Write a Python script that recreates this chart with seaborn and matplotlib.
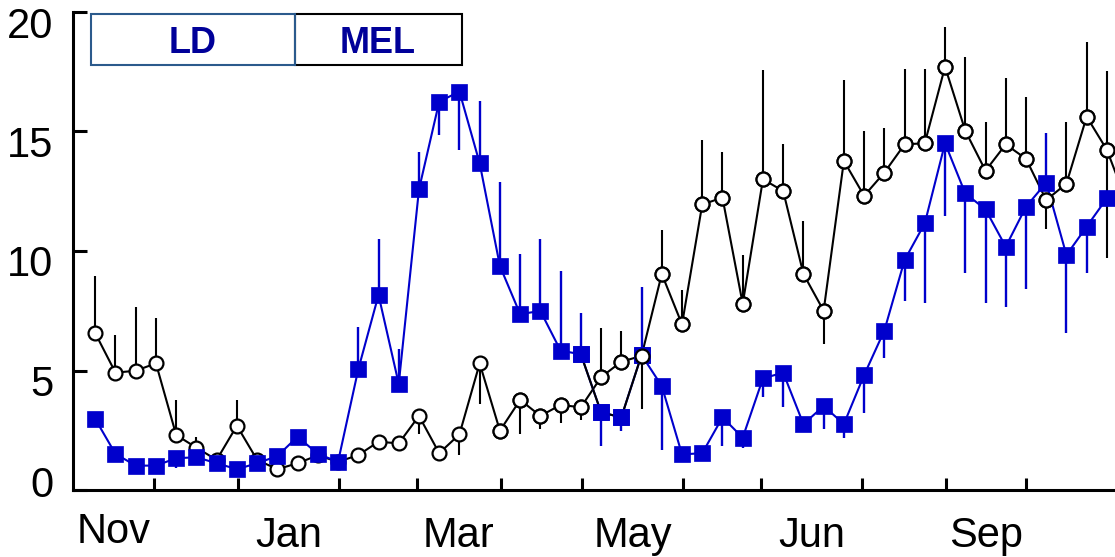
import matplotlib
matplotlib.use("Agg")
import matplotlib.pyplot as plt
import matplotlib.transforms as mtransforms
from matplotlib.patches import Rectangle
import numpy as np
import pandas as pd
import seaborn as sns

# Weekly means (week 0 = first week of November) with one-sided error extents
mel_mean = [6.56, 4.91, 4.99, 5.30, 2.30, 1.77, 1.26, 2.69, 1.26, 0.87,
            1.12, 1.45, 1.18, 1.46, 2.02, 1.95, 3.10, 1.54, 2.33, 5.30,
            2.48, 3.77, 3.10, 3.56, 3.46, 4.72, 5.37, 5.61, 9.04, 6.93,
            11.95, 12.23, 7.79, 13.00, 12.51, 9.04, 7.50, 13.77, 12.31, 13.28,
            14.46, 14.51, 17.71, 15.03, 13.36, 14.46, 13.86, 12.13, 12.82, 15.62,
            14.23, 12.00]
mel_err_hi = [2.39, 1.58, 2.65, 1.88, 1.47, 0.46, 0, 1.08, 0, 0,
              0, 0, 0, 0, 0, 0, 0, 0, 0, 0,
              0, 0, 0, 0, 0, 2.05, 1.28, 0, 1.84, 1.44,
              2.69, 1.92, 2.04, 4.57, 1.95, 2.23, 0, 3.38, 2.71, 1.85,
              3.16, 3.11, 1.65, 3.07, 2.05, 2.77, 2.60, 0, 2.59, 3.14,
              3.30, 0]
mel_err_lo = [0, 0, 0, 0, 0, 0, 0, 0, 0, 0,
              0, 0, 0, 0, 0, 0, 0.76, 0, 0.87, 1.71,
              0, 1.43, 0.55, 0.74, 0.53, 0, 0, 2.22, 0, 0,
              0, 0, 0, 0, 0, 0, 1.40, 0, 0, 0,
              0, 0, 0, 0, 0, 0, 0, 1.22, 0, 0,
              4.52, 0]

ld_mean = [2.97, 1.51, 1.02, 1.02, 1.33, 1.37, 1.12, 0.87, 1.12, 1.42,
           2.23, 1.51, 1.18, 5.05, 8.16, 4.44, 12.58, 16.25, 16.67, 13.67,
           9.37, 7.36, 7.49, 5.83, 5.68, 3.25, 3.04, 5.65, 4.35, 1.49,
           1.54, 3.04, 2.19, 4.67, 4.91, 2.76, 3.51, 2.76, 4.81, 6.67,
           9.62, 11.16, 14.51, 12.41, 11.74, 10.18, 11.85, 12.86, 9.83, 11.02,
           12.21]
ld_err_hi = [0, 0, 0, 0, 0, 0, 0, 0, 0, 0,
             0, 0, 0, 1.78, 2.33, 1.45, 1.57, 0, 0, 2.62,
             3.53, 2.51, 3.00, 3.33, 1.74, 0, 0, 2.84, 0, 0,
             0, 0, 0, 0, 0, 0, 0, 0, 0, 0,
             0, 0, 0, 0, 0, 0, 0, 2.06, 0, 0,
             0]
ld_err_lo = [0, 0, 0, 0, 0.40, 0, 0, 0, 0, 0,
             0, 0, 0, 0, 0, 0, 0, 1.40, 2.44, 0,
             0, 0, 0, 0, 0, 1.40, 0.57, 0, 2.68, 0,
             0, 1.19, 0.42, 0.77, 1.42, 0, 0.96, 0.60, 1.60, 1.16,
             1.71, 3.35, 3.03, 3.34, 3.93, 2.51, 3.45, 0, 3.27, 1.95,
             0]

# Month boundaries (in weeks) and labels shown on every other month
month_start = -1.1
month_edges = [2.9, 7.05, 12.05, 15.9, 20.05, 24.05, 29.05, 32.9, 37.9, 42.05, 46.0]
month_labels = ["Nov", "Jan", "Mar", "May", "Jun", "Sep"]
y_ticks = [0, 5, 10, 15, 20]

BLUE = "#0000CC"
NAVY = "#000099"
W, H = 1115, 557
LABEL_SIZE = 30

sns.set_style("ticks")
plt.rcParams["font.family"] = ["Liberation Sans", "DejaVu Sans"]

fig = plt.figure(figsize=(W / 100, H / 100), dpi=100)
ax = fig.add_axes([73 / W, 1 - 490 / H, 1 - 73 / W, 478 / H])

mel = pd.DataFrame({"week": np.arange(len(mel_mean)), "value": mel_mean,
                    "lo": mel_err_lo, "hi": mel_err_hi})
ld = pd.DataFrame({"week": np.arange(len(ld_mean)), "value": ld_mean,
                   "lo": ld_err_lo, "hi": ld_err_hi})

circle_kw = dict(marker="o", markersize=10, markerfacecolor="white",
                 markeredgecolor="black", markeredgewidth=1.6)
square_kw = dict(marker="s", markersize=11.5, markerfacecolor=BLUE,
                 markeredgecolor=BLUE, markeredgewidth=0.5)


def error_bars(df, color, lw, z):
    m = (df["lo"] > 0) | (df["hi"] > 0)
    d = df[m]
    ax.vlines(d["week"], d["value"] - d["lo"], d["value"] + d["hi"],
              color=color, lw=lw, zorder=z)


error_bars(mel, "black", 1.5, 1.5)
sns.lineplot(data=mel, x="week", y="value", ax=ax, color="black", linewidth=1.5,
             zorder=2, **circle_kw)

error_bars(ld, BLUE, 1.7, 2.5)
sns.lineplot(data=ld, x="week", y="value", ax=ax, color=BLUE, linewidth=1.5,
             zorder=3, **square_kw)

# the late-April stretch of the square series is joined in black
apr = ld[(ld["week"] >= 24) & (ld["week"] <= 27)]
ax.plot(apr["week"], apr["value"], color="black", lw=1.5, zorder=3.1)
ax.plot(apr["week"], apr["value"], linestyle="none", zorder=3.2, **square_kw)

# later open circles sit above the squares
late = mel[mel["week"] >= 20]
ax.plot(late["week"], late["value"], linestyle="none", zorder=4, **circle_kw)

# axes limits, spines and ticks
ax.set_xlim(month_start, 50.4)
ax.set_ylim(0, 20)
ax.set_xlabel("")
ax.set_ylabel("")
for side in ("top", "right"):
    ax.spines[side].set_visible(False)
for side in ("left", "bottom"):
    ax.spines[side].set_linewidth(2.2)
    ax.spines[side].set_color("black")

ax.set_xticks(month_edges)
ax.set_xticklabels([])
bounds = [month_start] + month_edges
mids = [(bounds[i] + bounds[i + 1]) / 2 for i in range(0, len(bounds) - 1, 2)]
ax.set_xticks(mids, minor=True)
ax.set_xticklabels(month_labels, minor=True)
ax.tick_params(axis="x", which="major", direction="in", length=8.6, width=2.2, color="black")
ax.tick_params(axis="x", which="minor", length=0, pad=18.5, labelsize=LABEL_SIZE,
               labelcolor="black")

ax.set_yticks(y_ticks)
ax.set_yticklabels([str(v) for v in y_ticks])
ax.tick_params(axis="y", direction="in", length=10, width=2.2, pad=14.0,
               labelsize=LABEL_SIZE, color="black", labelcolor="black")

# y labels sit slightly below their ticks; the zero label sits above the axis
for lab, v in zip(ax.get_yticklabels(), y_ticks):
    dy = 6 / 72 if v == 0 else -7.2 / 72
    lab.set_transform(lab.get_transform() +
                      mtransforms.ScaledTranslation(0, dy, fig.dpi_scale_trans))
for lab in ax.get_xticklabels(minor=True):
    if lab.get_text() == "Nov":
        lab.set_transform(lab.get_transform() +
                          mtransforms.ScaledTranslation(0, 3 / 72, fig.dpi_scale_trans))


# treatment boxes at the top left
def box(x0, x1, ec, label, cx):
    fig.add_artist(Rectangle((x0 / W, 1 - 65 / H), (x1 - x0) / W, 51 / H,
                             transform=fig.transFigure, fill=False, ec=ec, lw=1.5))
    fig.text(cx / W, 1 - 53 / H, label, ha="center", va="baseline",
             fontsize=26, fontweight="bold", color=NAVY)


box(295, 462, "black", "MEL", 378)
box(91, 295, "#2b5a8c", "LD", 193)

fig.savefig("out.png", dpi=100)
